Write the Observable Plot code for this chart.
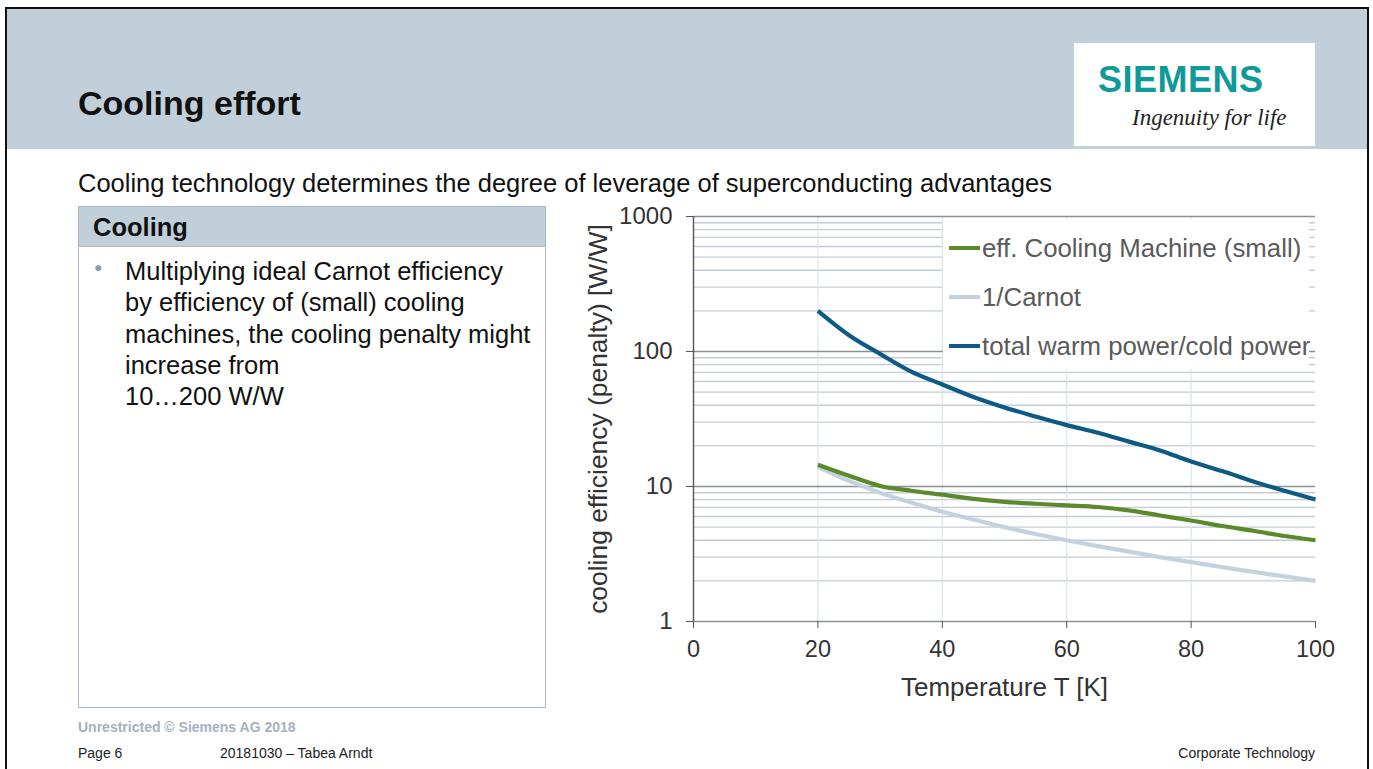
<!DOCTYPE html>
<html>
<head>
<meta charset="utf-8">
<script src="https://cdn.jsdelivr.net/npm/d3@7"></script>
<script src="https://cdn.jsdelivr.net/npm/@observablehq/plot@0.6"></script>
<style>
  html, body { margin: 0; padding: 0; background: #fff; }
  body { width: 1373px; height: 769px; position: relative; overflow: hidden; font-family: "Liberation Sans", Arial, sans-serif; color: #111; }
  #frame { position: absolute; left: 5px; top: 7px; width: 1364px; height: 800px; border: 2px solid #111; box-sizing: border-box; }
  #band { position: absolute; left: 7px; top: 9px; width: 1360px; height: 140px; background: #c1cfdb; }
  #title { position: absolute; left: 78px; top: 86px; font-size: 34px; font-weight: bold; line-height: 34px; color: #111; }
  #logo { position: absolute; left: 1074px; top: 43px; width: 241px; height: 103px; background: #fff; }
  #logo .brand { position: absolute; left: 24px; top: 19px; font-size: 36px; line-height: 36px; font-weight: bold; color: #0f9a9a; letter-spacing: 0.5px; }
  #logo .tag { position: absolute; left: 58px; top: 62px; font-family: "Liberation Serif", "DejaVu Serif", serif; font-style: italic; font-size: 23px; line-height: 26px; color: #222; }
  #subtitle { position: absolute; left: 78px; top: 170px; font-size: 25.5px; line-height: 26px; color: #111; white-space: nowrap; }
  #box { position: absolute; left: 78px; top: 206px; width: 468px; height: 502px; border: 1.5px solid #a9b9c8; box-sizing: border-box; }
  #box .head { height: 39px; background: #c1cfdb; border-bottom: 1px solid #a9b9c8; font-weight: bold; font-size: 25.5px; line-height: 40px; padding-left: 14px; color: #111; }
  #box .bullet { position: absolute; left: 15px; top: 52px; font-size: 14px; color: #8c9bb0; }
  #box .text { position: absolute; left: 46px; top: 49px; width: 430px; font-size: 25.5px; line-height: 31.3px; color: #111; white-space: nowrap; }
  #legend { position: absolute; left: 943px; top: 219px; width: 366px; height: 150px; background: #fff; }
  #legend .row { position: absolute; left: 6px; height: 30px; display: flex; align-items: center; font-size: 25.8px; color: #5a5a5a; white-space: nowrap; }
  #legend .sw { width: 31px; height: 4px; margin-right: 2px; }
  #chart { position: absolute; left: 580px; top: 200px; }
  .foot { position: absolute; font-size: 14px; line-height: 14px; white-space: nowrap; }
</style>
</head>
<body>
<div id="frame"></div>
<div id="band"></div>
<div id="title">Cooling effort</div>
<div id="logo"><div class="brand">SIEMENS</div><div class="tag">Ingenuity for life</div></div>
<div id="subtitle">Cooling technology determines the degree of leverage of superconducting advantages</div>
<div id="box">
  <div class="head">Cooling</div>
  <div class="bullet">●</div>
  <div class="text">Multiplying ideal Carnot efficiency<br>by efficiency of (small) cooling<br>machines, the cooling penalty might<br>increase from<br>10…200 W/W</div>
</div>
<div id="chart"></div>
<div id="legend"></div>
<div class="foot" style="left:78px; top:720px; font-weight:bold; color:#a3b2c2;">Unrestricted © Siemens AG 2018</div>
<div class="foot" style="left:78px; top:746px; color:#222;">Page 6</div>
<div class="foot" style="left:220px; top:746px; color:#222;">20181030 – Tabea Arndt</div>
<div class="foot" style="right:58px; top:746px; color:#222;">Corporate Technology</div>

<script>
// ---- data ----
const temperature = [20, 25, 30, 35, 40, 45, 50, 55, 60, 65, 70, 75, 80, 85, 90, 95, 100];
const coolingMachine = [14.5, 12.0, 10.1, 9.3, 8.7, 8.1, 7.7, 7.45, 7.25, 7.05, 6.65, 6.1, 5.6, 5.1, 4.7, 4.3, 4.0];
const carnot = [14.0, 11.0, 9.0, 7.6, 6.5, 5.7, 5.0, 4.45, 4.0, 3.62, 3.29, 3.0, 2.75, 2.53, 2.33, 2.16, 2.0];
const totalPower = [200, 132, 96, 71, 57, 46, 38.5, 33, 28.5, 25, 21.5, 18.5, 15.3, 13, 10.9, 9.3, 8.0];

const seriesNames = ["eff. Cooling Machine (small)", "1/Carnot", "total warm power/cold power"];
const seriesColors = ["#5b8a2d", "#c4d2df", "#0d5b84"];

const xTicks = [0, 20, 40, 60, 80, 100];
const xGrid = [20, 40, 60, 80];
const yTicks = [1, 10, 100, 1000];
const yMinor = [2, 3, 4, 5, 6, 7, 8, 9, 20, 30, 40, 50, 60, 70, 80, 90, 200, 300, 400, 500, 600, 700, 800, 900];

// long table built from the arrays
const seriesValues = [coolingMachine, carnot, totalPower];
const drawOrder = [1, 0, 2];
const rows = [];
drawOrder.forEach(k => {
  temperature.forEach((t, i) => rows.push({T: t, v: seriesValues[k][i], s: seriesNames[k]}));
});

const chart = Plot.plot({
  width: 780,
  height: 510,
  marginLeft: 113,
  marginRight: 45,
  marginTop: 16,
  marginBottom: 89,
  style: {fontFamily: "Liberation Sans, Arial, sans-serif", fontSize: "24px", color: "#333", background: "transparent", overflow: "visible"},
  x: {domain: [0, 100]},
  y: {type: "log", domain: [1, 1000]},
  color: {domain: seriesNames, range: seriesColors},
  marks: [
    Plot.ruleY(yMinor, {stroke: "#c3ccd6", strokeWidth: 1.4}),
    Plot.ruleX(xGrid, {stroke: "#dce3ea", strokeWidth: 1.2}),
    Plot.ruleY(yTicks, {stroke: "#8b9097", strokeWidth: 1.4}),
    Plot.ruleX([0], {stroke: "#555", strokeWidth: 1.4}),
    Plot.axisY({ticks: yTicks, tickFormat: d => String(d), tickSize: 7, tickPadding: 14, fontSize: 24,
      stroke: "#555", label: null}),
    Plot.axisY({ticks: yTicks, tickFormat: () => "", tickSize: 0, fontSize: 26.4, dy: -11,
      label: "cooling efficiency (penalty) [W/W]", labelAnchor: "center", labelOffset: 105, labelArrow: false}),
    Plot.axisX({ticks: xTicks, tickSize: 7, tickPadding: 12, fontSize: 23.5, stroke: "#555", label: null}),
    Plot.axisX({ticks: xTicks, tickFormat: () => "", tickSize: 0, fontSize: 26, dy: -2,
      label: "Temperature T [K]", labelAnchor: "center", labelOffset: 74, labelArrow: false}),
    Plot.line(rows, {x: "T", y: "v", z: "s", stroke: "s", strokeWidth: 4.2, curve: "monotone-x", strokeLinecap: "butt"})
  ]
});
document.getElementById("chart").appendChild(chart);

// legend (HTML overlay)
const legend = document.getElementById("legend");
const rowTops = [14, 63, 112];
seriesNames.forEach((name, i) => {
  const r = document.createElement("div");
  r.className = "row";
  r.style.top = rowTops[i] + "px";
  const sw = document.createElement("div");
  sw.className = "sw";
  sw.style.background = seriesColors[i];
  r.appendChild(sw);
  r.appendChild(document.createTextNode(name));
  legend.appendChild(r);
});
</script>
</body>
</html>
